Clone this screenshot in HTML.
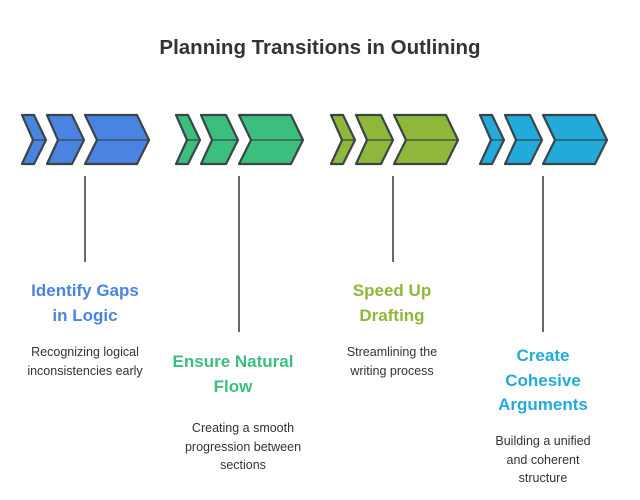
<!DOCTYPE html>
<html><head><meta charset="utf-8"><style>
body{margin:0;background:#fff;width:640px;height:500px;overflow:hidden;font-family:"Liberation Sans",sans-serif}
.t{position:absolute;text-align:center;font-weight:bold;font-size:17px;line-height:24.5px;width:180px}
.d{position:absolute;text-align:center;font-size:12.5px;line-height:18.5px;color:#333;width:180px}
</style></head><body>
<div style="position:absolute;top:36px;left:0;width:640px;text-align:center;font-size:20.5px;font-weight:bold;color:#333">Planning Transitions in Outlining</div>
<svg width="640" height="500" style="position:absolute;left:0;top:0">
<defs>
<g id="ch" stroke="#3a4548" stroke-width="2.2" stroke-linejoin="round">
<polygon points="0,0 12,0 24,25 12,49 0,49 11,25"/>
<polygon points="25,0 50,0 62,25 50,49 25,49 36,25"/>
<polygon points="63,0 115,0 127,25 115,49 63,49 75,25"/>
<path d="M11,25H24M36,25H62M75,25H127" stroke-width="1.2" fill="none"/>
</g>
</defs>
<use href="#ch" x="22" y="115" fill="#4a84e2"/>
<use href="#ch" x="176" y="115" fill="#3cbe7e"/>
<use href="#ch" x="331" y="115" fill="#8fb83a"/>
<use href="#ch" x="480" y="115" fill="#22aadb"/>
<g stroke="#3a4548" stroke-width="1.6">
<line x1="85" y1="176" x2="85" y2="262"/>
<line x1="239" y1="176" x2="239" y2="332"/>
<line x1="393" y1="176" x2="393" y2="262"/>
<line x1="543" y1="176" x2="543" y2="332"/>
</g>
</svg>
<div class="t" style="left:-5px;top:279px;color:#4a84e2">Identify Gaps<br>in Logic</div>
<div class="d" style="left:-5px;top:343px">Recognizing logical<br>inconsistencies early</div>
<div class="t" style="left:143px;top:350px;color:#3cbe7e">Ensure Natural<br>Flow</div>
<div class="d" style="left:153px;top:419px">Creating a smooth<br>progression between<br>sections</div>
<div class="t" style="left:302px;top:279px;color:#8fb83a">Speed Up<br>Drafting</div>
<div class="d" style="left:302px;top:343px">Streamlining the<br>writing process</div>
<div class="t" style="left:453px;top:344px;color:#22aadb">Create<br>Cohesive<br>Arguments</div>
<div class="d" style="left:453px;top:432px">Building a unified<br>and coherent<br>structure</div>
</body></html>
